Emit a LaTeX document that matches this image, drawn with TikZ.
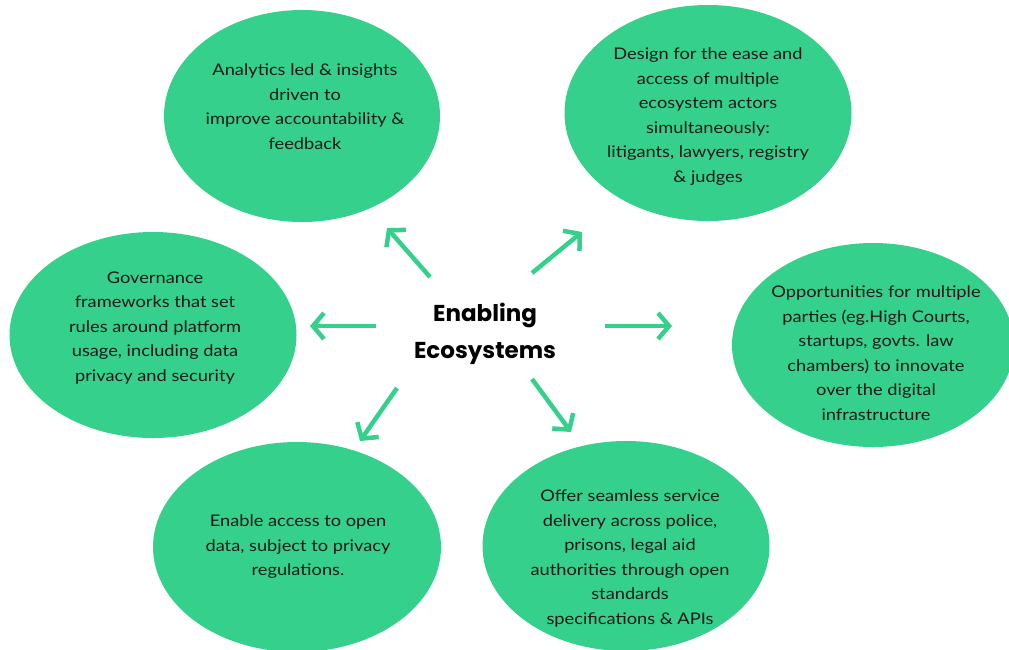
\documentclass[tikz,border=0pt]{standalone}
\usepackage{fontspec}
\setmainfont{Lato}[FakeStretch=1.14]
\newfontfamily\titlefont{Poppins}
\usetikzlibrary{shapes.geometric,arrows.meta}
\definecolor{ecogreen}{RGB}{52,208,140}
\definecolor{ecotext}{RGB}{25,25,25}
\tikzset{
  bubble/.style={ellipse,fill=ecogreen,draw=none,inner sep=0pt},
  bubbletext/.style={align=center,text=ecotext,inner sep=0pt,font=\fontsize{16pt}{24.5pt}\selectfont},
  spoke/.style={draw=ecogreen,line width=4.5pt,-{Straight Barb[length=11pt,width=26pt,line width=4.5pt]}}
}
\begin{document}
\begin{tikzpicture}[x=1pt,y=-1pt]
\useasboundingbox (0,0) rectangle (1009,649);
% bubbles
\node[bubble,minimum width=276pt,minimum height=212pt] (b1) at (302,116) {};
\node[bubble,minimum width=287pt,minimum height=216pt] (b2) at (708,113) {};
\node[bubble,minimum width=287pt,minimum height=206pt] (b3) at (153,335) {};
\node[bubble,minimum width=282pt,minimum height=204pt] (b4) at (873,345) {};
\node[bubble,minimum width=288pt,minimum height=210pt] (b5) at (297,547) {};
\node[bubble,minimum width=287pt,minimum height=210pt] (b6) at (626,546) {};
% texts
\node[bubbletext] (t1) at (305,106.5) {Analytics led \& insights\\driven to\\improve accountability \&\\feedback};
\node[bubbletext] (t2) at (708,116.5) {Design for the ease and\\access of multiple\\ecosystem actors\\simultaneously:\\litigants, lawyers, registry\\\& judges};
\node[bubbletext] (t3) at (155,328) {Governance\\frameworks that set\\rules around platform\\usage, including data\\privacy and security};
\node[bubbletext] (t4) at (876,353) {Opportunities for multiple\\parties (eg.High Courts,\\startups, govts. law\\chambers) to innovate\\over the digital\\infrastructure};
\node[bubbletext] (t5) at (298,547) {Enable access to open\\data, subject to privacy\\regulations.};
\node[bubbletext] (t6) at (630,558.5) {Offer seamless service\\delivery across police,\\prisons, legal aid\\authorities through open\\standards\\specifications \& APIs};
% centre
\node[align=center,font=\titlefont\bfseries\fontsize{23pt}{37pt}\selectfont,text=black] (c) at (485,334) {Enabling\\Ecosystems};
% spoke coordinates
\coordinate (s1) at (430,277); \coordinate (e1) at (387,228);
\coordinate (s2) at (532,273); \coordinate (e2) at (582,232);
\coordinate (s3) at (376,326); \coordinate (e3) at (310,326);
\coordinate (s4) at (605,326); \coordinate (e4) at (672,326);
\coordinate (s5) at (397,388); \coordinate (e5) at (360,441);
\coordinate (s6) at (532,379); \coordinate (e6) at (571,432);
\foreach \i in {1,...,6} {\draw[spoke] (s\i) -- (e\i);}
\end{tikzpicture}
\end{document}
